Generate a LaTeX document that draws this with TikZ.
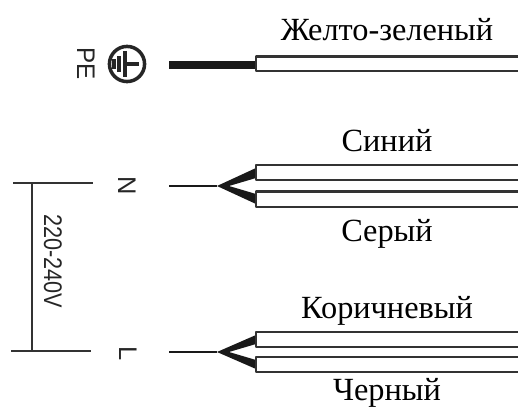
\documentclass[tikz,border=0pt]{standalone}
\usepackage{fontspec}
\setmainfont{Liberation Serif}
\setsansfont{Liberation Sans}
\usepackage{tikz}
\tikzset{
	wirelabel/.style={font=\fontsize{18.4pt}{20pt}\selectfont,inner sep=0pt},
	sidelabel/.style={font=\sffamily\fontsize{14.5pt}{16pt}\selectfont,rotate=-90,inner sep=0pt,black!85},
	core/.style={line width=1.3pt,draw=black!80,fill=white},
	thin wire/.style={line width=1.5pt,black!90},
	fork/.style={fill=black!90,draw=none},
	busbar/.style={line width=1.4pt,black!80},
	gndbar/.style={line width=2.2pt,black!85}
}
\begin{document}
\begin{tikzpicture}[x=0.02cm,y=-0.02cm,line join=round]
	\useasboundingbox (0,0) rectangle (518,408);
	% earth
	\coordinate (peA) at (169,65);
	\coordinate (peB) at (256,65);
	\draw[thin wire,line width=4.4pt] (peA)--(peB);
	\draw[core] (256,56.5) rectangle (530,71);
	\node[sidelabel,xscale=0.95] (pe) at (86,64) {PE};
	\node[draw,circle,line width=2pt,minimum size=20pt,inner sep=0pt,black!85] (gnd) at (127,64) {};
	\draw[gndbar] (gnd.center)++(-2,0)--++(14,0);
	\draw[gndbar] (gnd.center)++(-2,-13)--++(0,26);
	\draw[gndbar] (gnd.center)++(-8,-8)--++(0,16);
	\draw[gndbar] (gnd.center)++(-13,-5)--++(0,10);
	% neutral
	\node[sidelabel] (n) at (127,186) {N};
	\coordinate (nA) at (169,186);
	\coordinate (nB) at (217,186);
	\draw[thin wire] (nA)--(nB);
	\fill[fork] (nB)--(256,168)--(256,178)--(229,186)--(256,194)--(256,204)--cycle;
	\draw[core] (256,165) rectangle (530,180);
	\draw[core] (256,191.5) rectangle (530,207);
	% line
	\node[sidelabel] (l) at (128,354) {L};
	\coordinate (lA) at (169,352);
	\coordinate (lB) at (217,352);
	\draw[thin wire] (lA)--(lB);
	\fill[fork] (lB)--(256,335)--(256,344)--(229,352)--(256,360)--(256,369)--cycle;
	\draw[core] (256,332) rectangle (530,347);
	\draw[core] (256,357) rectangle (530,372);
	% voltage
	\coordinate (vA) at (13,183);
	\coordinate (vB) at (93,183);
	\coordinate (vC) at (11,351);
	\coordinate (vD) at (91,351);
	\draw[busbar] (vA)--(vB);
	\draw[busbar,line width=1.7pt] (vC)--(vD);
	\draw[busbar] (32,183)--(32,351);
	\node[sidelabel,xscale=0.85] (volt) at (53,261) {220-240V};
	% colours
	\node[wirelabel] (ye) at (387,30) {Желто-зеленый};
	\node[wirelabel] (bl) at (387,141) {Синий};
	\node[wirelabel] (gr) at (387,234) {Серый};
	\node[wirelabel] (br) at (387,311) {Коричневый};
	\node[wirelabel] (bk) at (387,393) {Черный};
\end{tikzpicture}
\end{document}
